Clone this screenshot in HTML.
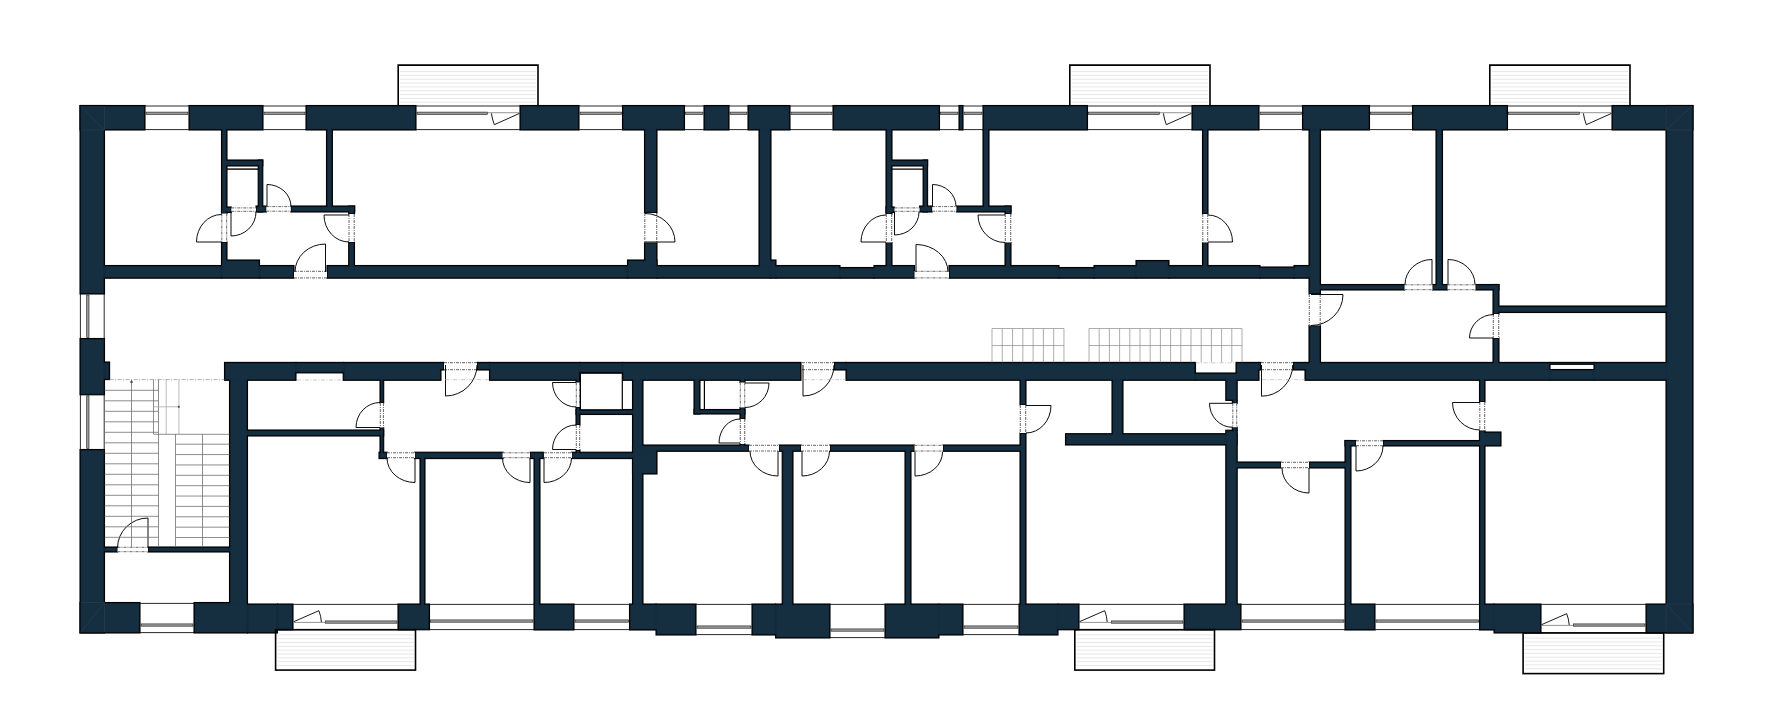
<!DOCTYPE html>
<html><head><meta charset="utf-8"><title>Floor plan</title>
<style>html,body{margin:0;padding:0;background:#fff;overflow:hidden}svg{display:block}</style></head>
<body><svg width="1785" height="727" viewBox="0 0 1785 727">
<defs>
<filter id="er" color-interpolation-filters="sRGB" x="0" y="0" width="100%" height="100%" filterUnits="userSpaceOnUse"><feMorphology operator="erode" radius="1"/></filter>
<g id="walls">
<rect x="80.00" y="105.50" width="65.00" height="24.50"/>
<rect x="189.00" y="105.50" width="74.00" height="24.50"/>
<rect x="306.00" y="105.50" width="110.00" height="24.50"/>
<rect x="520.00" y="105.50" width="59.00" height="24.50"/>
<rect x="622.50" y="105.50" width="62.00" height="24.50"/>
<rect x="704.00" y="105.50" width="25.00" height="24.50"/>
<rect x="748.00" y="105.50" width="42.00" height="24.50"/>
<rect x="833.00" y="105.50" width="106.50" height="24.50"/>
<rect x="959.00" y="105.50" width="4.00" height="24.50"/>
<rect x="983.00" y="105.50" width="104.50" height="24.50"/>
<rect x="1192.00" y="105.50" width="67.00" height="24.50"/>
<rect x="1302.50" y="105.50" width="67.00" height="24.50"/>
<rect x="1412.50" y="105.50" width="95.00" height="24.50"/>
<rect x="1612.00" y="105.50" width="81.00" height="24.50"/>
<rect x="80.00" y="105.50" width="24.50" height="188.50"/>
<rect x="80.00" y="338.50" width="24.50" height="56.30"/>
<rect x="80.00" y="449.50" width="24.50" height="183.50"/>
<rect x="104.50" y="362.00" width="5.10" height="17.60"/>
<rect x="1666.00" y="105.50" width="27.00" height="527.50"/>
<rect x="80.00" y="602.50" width="60.00" height="30.50"/>
<rect x="194.00" y="602.50" width="53.50" height="30.50"/>
<rect x="247.50" y="604.00" width="30.00" height="29.00"/>
<rect x="277.50" y="604.00" width="15.50" height="25.80"/>
<rect x="398.00" y="604.00" width="31.50" height="25.80"/>
<rect x="534.00" y="604.00" width="40.00" height="26.00"/>
<rect x="629.50" y="604.00" width="26.50" height="26.00"/>
<rect x="656.00" y="604.00" width="40.00" height="31.00"/>
<rect x="752.00" y="604.00" width="23.50" height="31.00"/>
<rect x="775.50" y="604.00" width="54.50" height="34.00"/>
<rect x="885.00" y="604.00" width="54.00" height="34.00"/>
<rect x="939.00" y="604.00" width="24.00" height="31.00"/>
<rect x="1019.00" y="604.00" width="39.00" height="31.00"/>
<rect x="1058.00" y="604.00" width="21.00" height="25.80"/>
<rect x="1184.00" y="604.00" width="57.00" height="25.80"/>
<rect x="1345.00" y="604.00" width="30.00" height="26.00"/>
<rect x="1479.50" y="604.00" width="14.50" height="26.00"/>
<rect x="1494.00" y="604.00" width="47.00" height="29.00"/>
<rect x="1646.00" y="604.00" width="47.00" height="29.00"/>
<rect x="104.50" y="265.50" width="117.00" height="12.70"/>
<rect x="221.50" y="260.00" width="38.00" height="18.20"/>
<rect x="259.50" y="265.50" width="34.50" height="12.70"/>
<rect x="327.00" y="265.50" width="300.50" height="12.70"/>
<rect x="627.50" y="260.00" width="29.50" height="18.20"/>
<rect x="657.00" y="265.50" width="114.00" height="12.70"/>
<rect x="771.00" y="260.00" width="5.00" height="18.20"/>
<rect x="776.00" y="265.50" width="64.00" height="12.70"/>
<rect x="840.00" y="267.50" width="34.00" height="10.70"/>
<rect x="874.00" y="265.50" width="40.50" height="12.70"/>
<rect x="949.00" y="265.50" width="110.00" height="12.70"/>
<rect x="1059.00" y="267.50" width="35.00" height="10.70"/>
<rect x="1094.00" y="265.50" width="42.00" height="12.70"/>
<rect x="1136.00" y="260.50" width="33.00" height="17.70"/>
<rect x="1169.00" y="265.50" width="91.00" height="12.70"/>
<rect x="1260.00" y="267.00" width="34.00" height="11.20"/>
<rect x="1294.00" y="265.50" width="15.00" height="12.70"/>
<rect x="224.50" y="362.40" width="71.50" height="17.90"/>
<rect x="296.00" y="362.40" width="47.20" height="10.50"/>
<rect x="343.20" y="362.40" width="97.80" height="17.90"/>
<rect x="441.00" y="362.40" width="3.00" height="7.60"/>
<rect x="477.00" y="362.40" width="12.50" height="7.60"/>
<rect x="489.50" y="362.40" width="90.50" height="17.90"/>
<rect x="580.00" y="362.40" width="42.50" height="10.60"/>
<rect x="622.50" y="362.40" width="178.50" height="17.90"/>
<rect x="834.00" y="362.40" width="12.00" height="7.60"/>
<rect x="846.00" y="362.40" width="349.50" height="17.90"/>
<rect x="1195.50" y="373.00" width="40.50" height="7.30"/>
<rect x="1236.00" y="362.40" width="23.00" height="17.90"/>
<rect x="1259.00" y="362.40" width="2.00" height="7.60"/>
<rect x="1293.00" y="362.40" width="12.00" height="7.60"/>
<rect x="1305.00" y="362.40" width="245.00" height="17.90"/>
<rect x="1550.00" y="369.50" width="44.00" height="10.80"/>
<rect x="1550.00" y="362.40" width="44.00" height="1.90"/>
<rect x="1594.00" y="362.40" width="72.00" height="17.90"/>
<rect x="221.50" y="130.00" width="5.50" height="83.50"/>
<rect x="221.50" y="242.00" width="5.50" height="24.00"/>
<rect x="227.00" y="160.00" width="35.80" height="6.00"/>
<rect x="258.20" y="160.00" width="4.60" height="52.00"/>
<rect x="221.50" y="207.00" width="9.80" height="5.50"/>
<rect x="256.00" y="206.00" width="10.30" height="6.00"/>
<rect x="326.50" y="130.00" width="5.90" height="77.00"/>
<rect x="290.80" y="206.00" width="64.00" height="6.00"/>
<rect x="348.70" y="206.00" width="5.80" height="8.00"/>
<rect x="348.70" y="242.00" width="5.80" height="24.00"/>
<rect x="644.50" y="130.00" width="12.50" height="83.00"/>
<rect x="644.50" y="242.50" width="12.50" height="23.50"/>
<rect x="759.00" y="130.00" width="12.00" height="136.00"/>
<rect x="886.00" y="130.00" width="6.00" height="84.00"/>
<rect x="886.00" y="242.50" width="6.00" height="23.50"/>
<rect x="891.50" y="160.00" width="36.10" height="6.00"/>
<rect x="923.10" y="160.00" width="4.50" height="52.00"/>
<rect x="886.00" y="207.00" width="8.40" height="5.50"/>
<rect x="919.60" y="206.00" width="12.60" height="6.00"/>
<rect x="956.40" y="206.00" width="54.60" height="6.00"/>
<rect x="983.00" y="130.00" width="6.00" height="77.00"/>
<rect x="1005.00" y="206.00" width="6.00" height="8.00"/>
<rect x="1005.00" y="242.50" width="6.00" height="23.50"/>
<rect x="1202.50" y="130.00" width="5.50" height="84.00"/>
<rect x="1202.50" y="242.50" width="5.50" height="23.50"/>
<rect x="1309.00" y="130.00" width="11.50" height="164.00"/>
<rect x="1309.00" y="325.50" width="11.50" height="37.50"/>
<rect x="1436.00" y="130.00" width="6.50" height="155.00"/>
<rect x="1320.50" y="284.50" width="84.00" height="5.50"/>
<rect x="1432.50" y="284.50" width="15.00" height="5.50"/>
<rect x="1475.50" y="284.50" width="23.50" height="5.50"/>
<rect x="1493.00" y="284.50" width="6.00" height="29.50"/>
<rect x="1493.00" y="338.00" width="6.00" height="25.00"/>
<rect x="1499.00" y="306.00" width="167.00" height="6.50"/>
<rect x="229.50" y="380.00" width="18.00" height="224.00"/>
<rect x="104.50" y="547.00" width="13.00" height="5.00"/>
<rect x="148.00" y="547.00" width="81.50" height="5.00"/>
<rect x="247.50" y="430.00" width="136.20" height="6.00"/>
<rect x="380.00" y="380.00" width="3.70" height="23.00"/>
<rect x="380.00" y="427.50" width="3.70" height="30.50"/>
<rect x="379.00" y="452.20" width="8.10" height="6.40"/>
<rect x="414.60" y="452.20" width="88.50" height="6.40"/>
<rect x="530.30" y="452.20" width="13.00" height="6.40"/>
<rect x="571.60" y="452.20" width="60.90" height="6.40"/>
<rect x="420.00" y="458.00" width="5.00" height="146.00"/>
<rect x="534.00" y="458.00" width="6.00" height="146.00"/>
<rect x="576.00" y="380.00" width="4.00" height="2.50"/>
<rect x="576.00" y="407.00" width="4.00" height="18.00"/>
<rect x="576.00" y="450.00" width="4.00" height="3.00"/>
<rect x="576.00" y="409.50" width="56.50" height="5.00"/>
<rect x="632.50" y="380.00" width="10.50" height="224.00"/>
<rect x="632.50" y="446.00" width="24.50" height="28.00"/>
<rect x="643.00" y="445.00" width="106.00" height="6.30"/>
<rect x="779.00" y="445.00" width="22.00" height="6.30"/>
<rect x="830.00" y="445.00" width="84.50" height="6.30"/>
<rect x="943.00" y="445.00" width="77.00" height="6.30"/>
<rect x="782.20" y="451.00" width="10.80" height="153.00"/>
<rect x="694.00" y="380.00" width="6.00" height="34.00"/>
<rect x="694.00" y="409.50" width="51.00" height="4.50"/>
<rect x="740.00" y="380.00" width="5.00" height="2.50"/>
<rect x="740.00" y="407.50" width="5.00" height="11.50"/>
<rect x="740.00" y="444.00" width="5.00" height="2.00"/>
<rect x="905.00" y="451.00" width="6.00" height="153.00"/>
<rect x="1020.00" y="380.00" width="6.00" height="25.00"/>
<rect x="1020.00" y="433.00" width="6.00" height="171.00"/>
<rect x="1065.50" y="433.70" width="171.50" height="11.30"/>
<rect x="1112.00" y="380.00" width="11.00" height="54.00"/>
<rect x="1225.80" y="380.00" width="11.40" height="20.40"/>
<rect x="1232.30" y="400.40" width="4.90" height="2.90"/>
<rect x="1232.30" y="427.30" width="4.90" height="2.90"/>
<rect x="1225.80" y="430.20" width="11.40" height="173.80"/>
<rect x="1237.00" y="462.00" width="44.00" height="6.00"/>
<rect x="1309.00" y="462.00" width="36.00" height="6.00"/>
<rect x="1345.00" y="440.50" width="6.00" height="163.50"/>
<rect x="1345.00" y="440.50" width="11.00" height="5.50"/>
<rect x="1383.00" y="440.50" width="96.50" height="5.50"/>
<rect x="1479.50" y="380.00" width="5.50" height="22.00"/>
<rect x="1479.50" y="430.50" width="5.50" height="173.50"/>
<rect x="1479.50" y="432.00" width="21.50" height="14.00"/>
</g>
</defs>
<rect width="1785" height="727" fill="#fff"/>
<use href="#walls" fill="#000" stroke="#000" stroke-width="1.1"/>
<use href="#walls" fill="#152e40" stroke="#152e40" stroke-width="0.5" filter="url(#er)"/>
<g fill="none" stroke="#333" stroke-width="0.75" stroke-dasharray="3 1 1 1">
<rect x="221.50" y="213.50" width="5.50" height="28.50" fill="#fff" stroke="none"/>
<path d="M221.8,213.5 V242 M226.7,213.5 V242"/>
<rect x="231.30" y="207.60" width="24.70" height="4.00" fill="#fff" stroke="none"/>
<path d="M231.3,207.9 H256 M231.3,211.29999999999998 H256"/>
<rect x="266.30" y="206.30" width="24.50" height="5.20" fill="#fff" stroke="none"/>
<path d="M266.3,206.60000000000002 H290.8 M266.3,211.2 H290.8"/>
<rect x="348.70" y="214.00" width="5.80" height="28.00" fill="#fff" stroke="none"/>
<path d="M349.0,214 V242 M354.2,214 V242"/>
<rect x="294.00" y="271.00" width="33.00" height="7.20" fill="#fff" stroke="none"/>
<path d="M294,271.3 H327 M294,277.9 H327"/>
<rect x="644.50" y="213.00" width="12.50" height="29.50" fill="#fff" stroke="none"/>
<path d="M644.8,213 V242.5 M656.7,213 V242.5"/>
<rect x="886.00" y="214.00" width="6.00" height="28.50" fill="#fff" stroke="none"/>
<path d="M886.3,214 V242.5 M891.7,214 V242.5"/>
<rect x="894.40" y="207.60" width="25.20" height="4.00" fill="#fff" stroke="none"/>
<path d="M894.4,207.9 H919.6 M894.4,211.29999999999998 H919.6"/>
<rect x="932.20" y="206.30" width="24.20" height="5.20" fill="#fff" stroke="none"/>
<path d="M932.2,206.60000000000002 H956.4 M932.2,211.2 H956.4"/>
<rect x="1005.00" y="214.00" width="6.00" height="28.50" fill="#fff" stroke="none"/>
<path d="M1005.3,214 V242.5 M1010.7,214 V242.5"/>
<rect x="914.50" y="271.00" width="34.50" height="7.20" fill="#fff" stroke="none"/>
<path d="M914.5,271.3 H949 M914.5,277.9 H949"/>
<rect x="1202.50" y="214.00" width="5.50" height="28.50" fill="#fff" stroke="none"/>
<path d="M1202.8,214 V242.5 M1207.7,214 V242.5"/>
<rect x="1309.00" y="294.00" width="11.50" height="31.50" fill="#fff" stroke="none"/>
<path d="M1309.3,294 V325.5 M1320.2,294 V325.5"/>
<rect x="1404.50" y="284.50" width="28.00" height="5.50" fill="#fff" stroke="none"/>
<path d="M1404.5,284.8 H1432.5 M1404.5,289.7 H1432.5"/>
<rect x="1447.50" y="284.50" width="28.00" height="5.50" fill="#fff" stroke="none"/>
<path d="M1447.5,284.8 H1475.5 M1447.5,289.7 H1475.5"/>
<rect x="1493.00" y="314.00" width="6.00" height="24.00" fill="#fff" stroke="none"/>
<path d="M1493.3,314 V338 M1498.7,314 V338"/>
<rect x="444.00" y="362.40" width="33.00" height="7.60" fill="#fff" stroke="none"/>
<path d="M444,362.7 H477 M444,369.7 H477"/>
<rect x="802.00" y="362.40" width="32.00" height="7.60" fill="#fff" stroke="none"/>
<path d="M802,362.7 H834 M802,369.7 H834"/>
<rect x="1261.00" y="362.40" width="32.00" height="7.60" fill="#fff" stroke="none"/>
<path d="M1261,362.7 H1293 M1261,369.7 H1293"/>
<rect x="117.50" y="547.00" width="30.50" height="5.00" fill="#fff" stroke="none"/>
<path d="M117.5,547.3 H148 M117.5,551.7 H148"/>
<rect x="380.00" y="403.00" width="3.70" height="24.50" fill="#fff" stroke="none"/>
<path d="M380.3,403 V427.5 M383.4,403 V427.5"/>
<rect x="387.00" y="452.50" width="28.00" height="5.50" fill="#fff" stroke="none"/>
<path d="M387,452.8 H415 M387,457.7 H415"/>
<rect x="502.50" y="452.50" width="27.50" height="5.50" fill="#fff" stroke="none"/>
<path d="M502.5,452.8 H530 M502.5,457.7 H530"/>
<rect x="544.00" y="452.50" width="28.00" height="5.50" fill="#fff" stroke="none"/>
<path d="M544,452.8 H572 M544,457.7 H572"/>
<rect x="576.00" y="382.50" width="4.00" height="24.50" fill="#fff" stroke="none"/>
<path d="M576.3,382.5 V407 M579.7,382.5 V407"/>
<rect x="576.00" y="425.00" width="4.00" height="25.00" fill="#fff" stroke="none"/>
<path d="M576.3,425 V450 M579.7,425 V450"/>
<rect x="749.00" y="445.00" width="30.00" height="6.30" fill="#fff" stroke="none"/>
<path d="M749,445.3 H779 M749,451.0 H779"/>
<rect x="801.00" y="445.00" width="29.00" height="6.30" fill="#fff" stroke="none"/>
<path d="M801,445.3 H830 M801,451.0 H830"/>
<rect x="740.00" y="382.50" width="5.00" height="25.00" fill="#fff" stroke="none"/>
<path d="M740.3,382.5 V407.5 M744.7,382.5 V407.5"/>
<rect x="740.00" y="419.00" width="5.00" height="25.00" fill="#fff" stroke="none"/>
<path d="M740.3,419 V444 M744.7,419 V444"/>
<rect x="914.50" y="445.00" width="28.50" height="6.30" fill="#fff" stroke="none"/>
<path d="M914.5,445.3 H943 M914.5,451.0 H943"/>
<rect x="1020.00" y="405.00" width="6.00" height="28.00" fill="#fff" stroke="none"/>
<path d="M1020.3,405 V433 M1025.7,405 V433"/>
<rect x="1232.50" y="403.30" width="4.50" height="24.00" fill="#fff" stroke="none"/>
<path d="M1232.8,403.3 V427.3 M1236.7,403.3 V427.3"/>
<rect x="1479.50" y="402.00" width="5.50" height="28.50" fill="#fff" stroke="none"/>
<path d="M1479.8,402 V430.5 M1484.7,402 V430.5"/>
<rect x="1356.00" y="440.50" width="27.00" height="5.50" fill="#fff" stroke="none"/>
<path d="M1356,440.8 H1383 M1356,445.7 H1383"/>
<rect x="1281.00" y="462.00" width="28.00" height="6.00" fill="#fff" stroke="none"/>
<path d="M1281,462.3 H1309 M1281,467.7 H1309"/>
</g>
<g fill="none" stroke="#000" stroke-width="0.95">
<path d="M221.5,242 l-25,0 A25,27.5 0 0 1 221.5,214.5"/>
<path d="M231,212 l0,24 A25,24 0 0 0 256,212"/>
<path d="M267,206.5 l0,-22 A24,22 0 0 1 291,206.5"/>
<path d="M349,215 l-25,0 A25,27 0 0 0 349,242"/>
<path d="M325.5,272 l0,-28 A30.5,28 0 0 0 295.0,272"/>
<path d="M645,242 l30,0 A30,28.5 0 0 0 645,213.5"/>
<path d="M886,242 l-25,0 A25,27 0 0 1 886,215"/>
<path d="M894.5,212 l0,23 A24.5,23 0 0 0 919.0,212"/>
<path d="M932.5,206.5 l0,-22 A23.5,22 0 0 1 956.0,206.5"/>
<path d="M1005,215 l-27,0 A27,27.5 0 0 0 1005,242.5"/>
<path d="M916,272 l0,-27.5 A32,27.5 0 0 1 948,272"/>
<path d="M1208,242 l24.5,0 A24.5,27 0 0 0 1208,215"/>
<path d="M1311,294.5 l32,0 A32,31 0 0 1 1311,325.5"/>
<path d="M1432,284.5 l0,-25 A27,25 0 0 0 1405,284.5"/>
<path d="M1448,284.5 l0,-25 A27,25 0 0 1 1475,284.5"/>
<path d="M1494,338 l-24.5,0 A24.5,23.5 0 0 1 1494,314.5"/>
<path d="M445.5,365 l0,31 A31.5,31 0 0 0 477.0,365"/>
<path d="M803,365 l0,31 A31,31 0 0 0 834,365"/>
<path d="M1261.5,365 l0,31.2 A31.2,31.2 0 0 0 1292.7,365"/>
<path d="M148,548 l0,-30 A30.5,30 0 0 0 117.5,548"/>
<path d="M380,427.5 l-24,0 A24,25 0 0 1 380,402.5"/>
<path d="M415,458 l0,24.5 A28,24.5 0 0 1 387,458"/>
<path d="M530,458 l0,24.5 A27.5,24.5 0 0 1 502.5,458"/>
<path d="M544,458 l0,24.5 A27.5,24.5 0 0 0 571.5,458"/>
<path d="M576,382.5 l-23.5,0 A23.5,24.5 0 0 0 576,407.0"/>
<path d="M576,449.5 l-23.5,0 A23.5,24.5 0 0 1 576,425.0"/>
<path d="M778,451 l0,25 A28,25 0 0 1 750,451"/>
<path d="M802,451 l0,25 A27.5,25 0 0 0 829.5,451"/>
<path d="M745,383 l24,0 A24,24.5 0 0 1 745,407.5"/>
<path d="M740,443 l-21,0 A21,24 0 0 1 740,419"/>
<path d="M915,452 l0,24 A27.5,24 0 0 0 942.5,452"/>
<path d="M1026,405.5 l25,0 A25,27.5 0 0 1 1026,433.0"/>
<path d="M1232.5,403.3 l-23,0 A23,24 0 0 0 1232.5,427.3"/>
<path d="M1480,402.5 l-27.5,0 A27.5,27.5 0 0 0 1480,430.0"/>
<path d="M1356,446 l0,25 A27,25 0 0 0 1383,446"/>
<path d="M1309,468 l0,25 A27,25 0 0 1 1282,468"/>
</g>
<line x1="145.00" y1="106.00" x2="189.00" y2="106.00" stroke="#111" stroke-width="0.9" />
<line x1="145.00" y1="129.60" x2="189.00" y2="129.60" stroke="#111" stroke-width="0.9" />
<rect x="146.00" y="112.10" width="42.00" height="2.30" fill="#9a9a9a" stroke="#1a1a1a" stroke-width="0.6"/>
<line x1="263.00" y1="106.00" x2="306.00" y2="106.00" stroke="#111" stroke-width="0.9" />
<line x1="263.00" y1="129.60" x2="306.00" y2="129.60" stroke="#111" stroke-width="0.9" />
<rect x="264.00" y="112.10" width="41.00" height="2.30" fill="#9a9a9a" stroke="#1a1a1a" stroke-width="0.6"/>
<line x1="416.00" y1="106.00" x2="520.00" y2="106.00" stroke="#111" stroke-width="0.9" />
<line x1="416.00" y1="129.60" x2="520.00" y2="129.60" stroke="#111" stroke-width="0.9" />
<rect x="417.00" y="112.10" width="70.50" height="2.30" fill="#9a9a9a" stroke="#1a1a1a" stroke-width="0.6"/>
<line x1="487.50" y1="112.70" x2="519.00" y2="112.70" stroke="#666" stroke-width="0.7" />
<line x1="579.00" y1="106.00" x2="622.50" y2="106.00" stroke="#111" stroke-width="0.9" />
<line x1="579.00" y1="129.60" x2="622.50" y2="129.60" stroke="#111" stroke-width="0.9" />
<rect x="580.00" y="112.10" width="41.50" height="2.30" fill="#9a9a9a" stroke="#1a1a1a" stroke-width="0.6"/>
<line x1="684.50" y1="106.00" x2="704.00" y2="106.00" stroke="#111" stroke-width="0.9" />
<line x1="684.50" y1="129.60" x2="704.00" y2="129.60" stroke="#111" stroke-width="0.9" />
<rect x="685.50" y="112.10" width="17.50" height="2.30" fill="#9a9a9a" stroke="#1a1a1a" stroke-width="0.6"/>
<line x1="729.00" y1="106.00" x2="748.00" y2="106.00" stroke="#111" stroke-width="0.9" />
<line x1="729.00" y1="129.60" x2="748.00" y2="129.60" stroke="#111" stroke-width="0.9" />
<rect x="730.00" y="112.10" width="17.00" height="2.30" fill="#9a9a9a" stroke="#1a1a1a" stroke-width="0.6"/>
<line x1="790.00" y1="106.00" x2="833.00" y2="106.00" stroke="#111" stroke-width="0.9" />
<line x1="790.00" y1="129.60" x2="833.00" y2="129.60" stroke="#111" stroke-width="0.9" />
<rect x="791.00" y="112.10" width="41.00" height="2.30" fill="#9a9a9a" stroke="#1a1a1a" stroke-width="0.6"/>
<line x1="939.50" y1="106.00" x2="959.00" y2="106.00" stroke="#111" stroke-width="0.9" />
<line x1="939.50" y1="129.60" x2="959.00" y2="129.60" stroke="#111" stroke-width="0.9" />
<rect x="940.50" y="112.10" width="17.50" height="2.30" fill="#9a9a9a" stroke="#1a1a1a" stroke-width="0.6"/>
<line x1="963.00" y1="106.00" x2="983.00" y2="106.00" stroke="#111" stroke-width="0.9" />
<line x1="963.00" y1="129.60" x2="983.00" y2="129.60" stroke="#111" stroke-width="0.9" />
<rect x="964.00" y="112.10" width="18.00" height="2.30" fill="#9a9a9a" stroke="#1a1a1a" stroke-width="0.6"/>
<line x1="1087.50" y1="106.00" x2="1192.00" y2="106.00" stroke="#111" stroke-width="0.9" />
<line x1="1087.50" y1="129.60" x2="1192.00" y2="129.60" stroke="#111" stroke-width="0.9" />
<rect x="1088.50" y="112.10" width="71.00" height="2.30" fill="#9a9a9a" stroke="#1a1a1a" stroke-width="0.6"/>
<line x1="1159.50" y1="112.70" x2="1191.00" y2="112.70" stroke="#666" stroke-width="0.7" />
<line x1="1259.00" y1="106.00" x2="1302.50" y2="106.00" stroke="#111" stroke-width="0.9" />
<line x1="1259.00" y1="129.60" x2="1302.50" y2="129.60" stroke="#111" stroke-width="0.9" />
<rect x="1260.00" y="112.10" width="41.50" height="2.30" fill="#9a9a9a" stroke="#1a1a1a" stroke-width="0.6"/>
<line x1="1369.50" y1="106.00" x2="1412.50" y2="106.00" stroke="#111" stroke-width="0.9" />
<line x1="1369.50" y1="129.60" x2="1412.50" y2="129.60" stroke="#111" stroke-width="0.9" />
<rect x="1370.50" y="112.10" width="41.00" height="2.30" fill="#9a9a9a" stroke="#1a1a1a" stroke-width="0.6"/>
<line x1="1507.50" y1="106.00" x2="1612.00" y2="106.00" stroke="#111" stroke-width="0.9" />
<line x1="1507.50" y1="129.60" x2="1612.00" y2="129.60" stroke="#111" stroke-width="0.9" />
<rect x="1508.50" y="112.10" width="71.00" height="2.30" fill="#9a9a9a" stroke="#1a1a1a" stroke-width="0.6"/>
<line x1="1579.50" y1="112.70" x2="1611.00" y2="112.70" stroke="#666" stroke-width="0.7" />
<line x1="80.40" y1="294.00" x2="80.40" y2="338.50" stroke="#111" stroke-width="0.9" />
<line x1="104.20" y1="294.00" x2="104.20" y2="338.50" stroke="#111" stroke-width="0.9" />
<rect x="86.70" y="295.00" width="2.30" height="42.50" fill="#9a9a9a" stroke="#1a1a1a" stroke-width="0.6"/>
<line x1="80.40" y1="394.80" x2="80.40" y2="449.50" stroke="#111" stroke-width="0.9" />
<line x1="104.20" y1="394.80" x2="104.20" y2="449.50" stroke="#111" stroke-width="0.9" />
<rect x="86.70" y="395.80" width="2.30" height="52.70" fill="#9a9a9a" stroke="#1a1a1a" stroke-width="0.6"/>
<line x1="140.00" y1="603.40" x2="194.00" y2="603.40" stroke="#111" stroke-width="0.9" />
<line x1="140.00" y1="632.60" x2="194.00" y2="632.60" stroke="#111" stroke-width="0.9" />
<rect x="141.00" y="623.90" width="52.00" height="2.30" fill="#9a9a9a" stroke="#1a1a1a" stroke-width="0.6"/>
<line x1="293.00" y1="604.40" x2="398.00" y2="604.40" stroke="#111" stroke-width="0.9" />
<line x1="293.00" y1="629.40" x2="398.00" y2="629.40" stroke="#111" stroke-width="0.9" />
<rect x="325.50" y="620.90" width="71.50" height="2.30" fill="#9a9a9a" stroke="#1a1a1a" stroke-width="0.6"/>
<line x1="294.00" y1="622.40" x2="325.50" y2="622.40" stroke="#666" stroke-width="0.7" />
<line x1="429.50" y1="604.40" x2="534.00" y2="604.40" stroke="#111" stroke-width="0.9" />
<line x1="429.50" y1="629.60" x2="534.00" y2="629.60" stroke="#111" stroke-width="0.9" />
<rect x="430.50" y="619.90" width="102.50" height="2.30" fill="#9a9a9a" stroke="#1a1a1a" stroke-width="0.6"/>
<line x1="574.00" y1="604.40" x2="629.50" y2="604.40" stroke="#111" stroke-width="0.9" />
<line x1="574.00" y1="629.60" x2="629.50" y2="629.60" stroke="#111" stroke-width="0.9" />
<rect x="575.00" y="619.90" width="53.50" height="2.30" fill="#9a9a9a" stroke="#1a1a1a" stroke-width="0.6"/>
<line x1="696.00" y1="604.40" x2="752.00" y2="604.40" stroke="#111" stroke-width="0.9" />
<line x1="696.00" y1="634.60" x2="752.00" y2="634.60" stroke="#111" stroke-width="0.9" />
<rect x="697.00" y="625.90" width="54.00" height="2.30" fill="#9a9a9a" stroke="#1a1a1a" stroke-width="0.6"/>
<line x1="830.00" y1="604.40" x2="885.00" y2="604.40" stroke="#111" stroke-width="0.9" />
<line x1="830.00" y1="637.60" x2="885.00" y2="637.60" stroke="#111" stroke-width="0.9" />
<rect x="831.00" y="628.90" width="53.00" height="2.30" fill="#9a9a9a" stroke="#1a1a1a" stroke-width="0.6"/>
<line x1="963.00" y1="604.40" x2="1019.00" y2="604.40" stroke="#111" stroke-width="0.9" />
<line x1="963.00" y1="634.60" x2="1019.00" y2="634.60" stroke="#111" stroke-width="0.9" />
<rect x="964.00" y="625.90" width="54.00" height="2.30" fill="#9a9a9a" stroke="#1a1a1a" stroke-width="0.6"/>
<line x1="1079.00" y1="604.40" x2="1184.00" y2="604.40" stroke="#111" stroke-width="0.9" />
<line x1="1079.00" y1="629.40" x2="1184.00" y2="629.40" stroke="#111" stroke-width="0.9" />
<rect x="1111.50" y="620.90" width="71.50" height="2.30" fill="#9a9a9a" stroke="#1a1a1a" stroke-width="0.6"/>
<line x1="1080.00" y1="622.40" x2="1111.50" y2="622.40" stroke="#666" stroke-width="0.7" />
<line x1="1241.00" y1="604.40" x2="1345.00" y2="604.40" stroke="#111" stroke-width="0.9" />
<line x1="1241.00" y1="629.60" x2="1345.00" y2="629.60" stroke="#111" stroke-width="0.9" />
<rect x="1242.00" y="619.90" width="102.00" height="2.30" fill="#9a9a9a" stroke="#1a1a1a" stroke-width="0.6"/>
<line x1="1375.00" y1="604.40" x2="1479.50" y2="604.40" stroke="#111" stroke-width="0.9" />
<line x1="1375.00" y1="629.60" x2="1479.50" y2="629.60" stroke="#111" stroke-width="0.9" />
<rect x="1376.00" y="619.90" width="102.50" height="2.30" fill="#9a9a9a" stroke="#1a1a1a" stroke-width="0.6"/>
<line x1="1541.00" y1="604.40" x2="1646.00" y2="604.40" stroke="#111" stroke-width="0.9" />
<line x1="1541.00" y1="632.60" x2="1646.00" y2="632.60" stroke="#111" stroke-width="0.9" />
<rect x="1573.50" y="623.90" width="71.50" height="2.30" fill="#9a9a9a" stroke="#1a1a1a" stroke-width="0.6"/>
<line x1="1542.00" y1="625.40" x2="1573.50" y2="625.40" stroke="#666" stroke-width="0.7" />
<line x1="399.90" y1="71.60" x2="536.30" y2="71.60" stroke="#e4e4e4" stroke-width="0.9" />
<line x1="399.90" y1="75.43" x2="536.30" y2="75.43" stroke="#e4e4e4" stroke-width="0.9" />
<line x1="399.90" y1="79.26" x2="536.30" y2="79.26" stroke="#e4e4e4" stroke-width="0.9" />
<line x1="399.90" y1="83.09" x2="536.30" y2="83.09" stroke="#e4e4e4" stroke-width="0.9" />
<line x1="399.90" y1="86.92" x2="536.30" y2="86.92" stroke="#e4e4e4" stroke-width="0.9" />
<line x1="399.90" y1="90.75" x2="536.30" y2="90.75" stroke="#e4e4e4" stroke-width="0.9" />
<line x1="399.90" y1="94.58" x2="536.30" y2="94.58" stroke="#e4e4e4" stroke-width="0.9" />
<line x1="399.90" y1="98.41" x2="536.30" y2="98.41" stroke="#e4e4e4" stroke-width="0.9" />
<line x1="399.90" y1="102.24" x2="536.30" y2="102.24" stroke="#e4e4e4" stroke-width="0.9" />
<path d="M398.20,105.6 V65.10 H538.00 V105.6" fill="none" stroke="#000" stroke-width="1.6"/>
<line x1="1071.50" y1="71.60" x2="1208.30" y2="71.60" stroke="#e4e4e4" stroke-width="0.9" />
<line x1="1071.50" y1="75.43" x2="1208.30" y2="75.43" stroke="#e4e4e4" stroke-width="0.9" />
<line x1="1071.50" y1="79.26" x2="1208.30" y2="79.26" stroke="#e4e4e4" stroke-width="0.9" />
<line x1="1071.50" y1="83.09" x2="1208.30" y2="83.09" stroke="#e4e4e4" stroke-width="0.9" />
<line x1="1071.50" y1="86.92" x2="1208.30" y2="86.92" stroke="#e4e4e4" stroke-width="0.9" />
<line x1="1071.50" y1="90.75" x2="1208.30" y2="90.75" stroke="#e4e4e4" stroke-width="0.9" />
<line x1="1071.50" y1="94.58" x2="1208.30" y2="94.58" stroke="#e4e4e4" stroke-width="0.9" />
<line x1="1071.50" y1="98.41" x2="1208.30" y2="98.41" stroke="#e4e4e4" stroke-width="0.9" />
<line x1="1071.50" y1="102.24" x2="1208.30" y2="102.24" stroke="#e4e4e4" stroke-width="0.9" />
<path d="M1069.80,105.6 V65.10 H1210.00 V105.6" fill="none" stroke="#000" stroke-width="1.6"/>
<line x1="1491.50" y1="71.60" x2="1628.30" y2="71.60" stroke="#e4e4e4" stroke-width="0.9" />
<line x1="1491.50" y1="75.43" x2="1628.30" y2="75.43" stroke="#e4e4e4" stroke-width="0.9" />
<line x1="1491.50" y1="79.26" x2="1628.30" y2="79.26" stroke="#e4e4e4" stroke-width="0.9" />
<line x1="1491.50" y1="83.09" x2="1628.30" y2="83.09" stroke="#e4e4e4" stroke-width="0.9" />
<line x1="1491.50" y1="86.92" x2="1628.30" y2="86.92" stroke="#e4e4e4" stroke-width="0.9" />
<line x1="1491.50" y1="90.75" x2="1628.30" y2="90.75" stroke="#e4e4e4" stroke-width="0.9" />
<line x1="1491.50" y1="94.58" x2="1628.30" y2="94.58" stroke="#e4e4e4" stroke-width="0.9" />
<line x1="1491.50" y1="98.41" x2="1628.30" y2="98.41" stroke="#e4e4e4" stroke-width="0.9" />
<line x1="1491.50" y1="102.24" x2="1628.30" y2="102.24" stroke="#e4e4e4" stroke-width="0.9" />
<path d="M1489.80,105.6 V65.10 H1630.00 V105.6" fill="none" stroke="#000" stroke-width="1.6"/>
<line x1="277.30" y1="634.90" x2="413.80" y2="634.90" stroke="#e4e4e4" stroke-width="0.9" />
<line x1="277.30" y1="638.73" x2="413.80" y2="638.73" stroke="#e4e4e4" stroke-width="0.9" />
<line x1="277.30" y1="642.56" x2="413.80" y2="642.56" stroke="#e4e4e4" stroke-width="0.9" />
<line x1="277.30" y1="646.39" x2="413.80" y2="646.39" stroke="#e4e4e4" stroke-width="0.9" />
<line x1="277.30" y1="650.22" x2="413.80" y2="650.22" stroke="#e4e4e4" stroke-width="0.9" />
<line x1="277.30" y1="654.05" x2="413.80" y2="654.05" stroke="#e4e4e4" stroke-width="0.9" />
<line x1="277.30" y1="657.88" x2="413.80" y2="657.88" stroke="#e4e4e4" stroke-width="0.9" />
<line x1="277.30" y1="661.71" x2="413.80" y2="661.71" stroke="#e4e4e4" stroke-width="0.9" />
<line x1="277.30" y1="665.54" x2="413.80" y2="665.54" stroke="#e4e4e4" stroke-width="0.9" />
<rect x="275.60" y="629.80" width="139.90" height="40.30" fill="none" stroke="#000" stroke-width="1.6"/>
<line x1="1076.50" y1="634.90" x2="1212.80" y2="634.90" stroke="#e4e4e4" stroke-width="0.9" />
<line x1="1076.50" y1="638.73" x2="1212.80" y2="638.73" stroke="#e4e4e4" stroke-width="0.9" />
<line x1="1076.50" y1="642.56" x2="1212.80" y2="642.56" stroke="#e4e4e4" stroke-width="0.9" />
<line x1="1076.50" y1="646.39" x2="1212.80" y2="646.39" stroke="#e4e4e4" stroke-width="0.9" />
<line x1="1076.50" y1="650.22" x2="1212.80" y2="650.22" stroke="#e4e4e4" stroke-width="0.9" />
<line x1="1076.50" y1="654.05" x2="1212.80" y2="654.05" stroke="#e4e4e4" stroke-width="0.9" />
<line x1="1076.50" y1="657.88" x2="1212.80" y2="657.88" stroke="#e4e4e4" stroke-width="0.9" />
<line x1="1076.50" y1="661.71" x2="1212.80" y2="661.71" stroke="#e4e4e4" stroke-width="0.9" />
<line x1="1076.50" y1="665.54" x2="1212.80" y2="665.54" stroke="#e4e4e4" stroke-width="0.9" />
<rect x="1074.80" y="629.80" width="139.70" height="40.30" fill="none" stroke="#000" stroke-width="1.6"/>
<line x1="1524.80" y1="638.10" x2="1662.00" y2="638.10" stroke="#e4e4e4" stroke-width="0.9" />
<line x1="1524.80" y1="641.93" x2="1662.00" y2="641.93" stroke="#e4e4e4" stroke-width="0.9" />
<line x1="1524.80" y1="645.76" x2="1662.00" y2="645.76" stroke="#e4e4e4" stroke-width="0.9" />
<line x1="1524.80" y1="649.59" x2="1662.00" y2="649.59" stroke="#e4e4e4" stroke-width="0.9" />
<line x1="1524.80" y1="653.42" x2="1662.00" y2="653.42" stroke="#e4e4e4" stroke-width="0.9" />
<line x1="1524.80" y1="657.25" x2="1662.00" y2="657.25" stroke="#e4e4e4" stroke-width="0.9" />
<line x1="1524.80" y1="661.08" x2="1662.00" y2="661.08" stroke="#e4e4e4" stroke-width="0.9" />
<line x1="1524.80" y1="664.91" x2="1662.00" y2="664.91" stroke="#e4e4e4" stroke-width="0.9" />
<line x1="1524.80" y1="668.74" x2="1662.00" y2="668.74" stroke="#e4e4e4" stroke-width="0.9" />
<rect x="1523.10" y="633.00" width="140.60" height="40.60" fill="none" stroke="#000" stroke-width="1.6"/>
<path d="M519.5,113.4 L494.3,124.7 Q492.2,119 491.4,113.4" stroke="#000" stroke-width="0.9" fill="none" />
<path d="M1191.5,113.4 L1166.3,124.7 Q1164.2,119 1163.4,113.4" stroke="#000" stroke-width="0.9" fill="none" />
<path d="M1611.5,113.4 L1586.3,124.7 Q1584.2,119 1583.4,113.4" stroke="#000" stroke-width="0.9" fill="none" />
<path d="M293.7,621.7 L318.9,610.7 Q321.0,616 321.4,622" stroke="#000" stroke-width="0.9" fill="none" />
<path d="M1079.5,621.7 L1104.7,610.7 Q1106.8,616 1107.2,622" stroke="#000" stroke-width="0.9" fill="none" />
<path d="M1541.5,624.7 L1566.7,613.7 Q1568.8,619 1569.2,625" stroke="#000" stroke-width="0.9" fill="none" />
<line x1="227.00" y1="169.10" x2="258.20" y2="169.10" stroke="#000" stroke-width="1.4" />
<line x1="891.50" y1="169.10" x2="923.10" y2="169.10" stroke="#000" stroke-width="1.4" />
<rect x="580.4" y="373.2" width="41.9" height="36.6" fill="#fff" stroke="#000" stroke-width="1.2"/>
<path d="M704.4,380.5 V409.5" stroke="#000" stroke-width="1.2" fill="none" />
<line x1="445.00" y1="379.60" x2="489.00" y2="379.60" stroke="#aaa" stroke-width="0.6" stroke-dasharray="4 1.5 1 1.5"/>
<line x1="803.00" y1="379.60" x2="846.00" y2="379.60" stroke="#aaa" stroke-width="0.6" stroke-dasharray="4 1.5 1 1.5"/>
<line x1="1262.00" y1="379.60" x2="1305.00" y2="379.60" stroke="#aaa" stroke-width="0.6" stroke-dasharray="4 1.5 1 1.5"/>
<line x1="1195.50" y1="362.80" x2="1236.00" y2="362.80" stroke="#aaa" stroke-width="0.6" stroke-dasharray="4 1.5 1 1.5"/>
<line x1="297.00" y1="380.00" x2="343.00" y2="380.00" stroke="#aaa" stroke-width="0.6" stroke-dasharray="4 1.5 1 1.5"/>
<line x1="104.50" y1="390.30" x2="158.50" y2="390.30" stroke="#707070" stroke-width="0.8" />
<line x1="104.50" y1="400.80" x2="158.50" y2="400.80" stroke="#707070" stroke-width="0.8" />
<line x1="104.50" y1="411.30" x2="158.50" y2="411.30" stroke="#707070" stroke-width="0.8" />
<line x1="104.50" y1="421.80" x2="158.50" y2="421.80" stroke="#707070" stroke-width="0.8" />
<line x1="104.50" y1="432.30" x2="158.50" y2="432.30" stroke="#707070" stroke-width="0.8" />
<line x1="104.50" y1="442.80" x2="158.50" y2="442.80" stroke="#707070" stroke-width="0.8" />
<line x1="104.50" y1="453.30" x2="158.50" y2="453.30" stroke="#707070" stroke-width="0.8" />
<line x1="104.50" y1="463.80" x2="158.50" y2="463.80" stroke="#707070" stroke-width="0.8" />
<line x1="104.50" y1="474.30" x2="158.50" y2="474.30" stroke="#707070" stroke-width="0.8" />
<line x1="104.50" y1="484.80" x2="158.50" y2="484.80" stroke="#707070" stroke-width="0.8" />
<line x1="104.50" y1="495.30" x2="158.50" y2="495.30" stroke="#707070" stroke-width="0.8" />
<line x1="104.50" y1="505.80" x2="158.50" y2="505.80" stroke="#707070" stroke-width="0.8" />
<line x1="104.50" y1="516.30" x2="158.50" y2="516.30" stroke="#707070" stroke-width="0.8" />
<line x1="104.50" y1="526.80" x2="158.50" y2="526.80" stroke="#707070" stroke-width="0.8" />
<line x1="104.50" y1="537.30" x2="158.50" y2="537.30" stroke="#707070" stroke-width="0.8" />
<line x1="175.60" y1="444.20" x2="229.50" y2="444.20" stroke="#707070" stroke-width="0.8" />
<line x1="175.60" y1="454.57" x2="229.50" y2="454.57" stroke="#707070" stroke-width="0.8" />
<line x1="175.60" y1="464.94" x2="229.50" y2="464.94" stroke="#707070" stroke-width="0.8" />
<line x1="175.60" y1="475.31" x2="229.50" y2="475.31" stroke="#707070" stroke-width="0.8" />
<line x1="175.60" y1="485.68" x2="229.50" y2="485.68" stroke="#707070" stroke-width="0.8" />
<line x1="175.60" y1="496.05" x2="229.50" y2="496.05" stroke="#707070" stroke-width="0.8" />
<line x1="175.60" y1="506.42" x2="229.50" y2="506.42" stroke="#707070" stroke-width="0.8" />
<line x1="175.60" y1="516.79" x2="229.50" y2="516.79" stroke="#707070" stroke-width="0.8" />
<line x1="175.60" y1="527.16" x2="229.50" y2="527.16" stroke="#707070" stroke-width="0.8" />
<line x1="175.60" y1="537.53" x2="229.50" y2="537.53" stroke="#707070" stroke-width="0.8" />
<line x1="131.50" y1="381.00" x2="131.50" y2="547.00" stroke="#707070" stroke-width="0.8" />
<line x1="153.50" y1="379.50" x2="153.50" y2="434.00" stroke="#707070" stroke-width="0.8" />
<line x1="158.50" y1="379.50" x2="158.50" y2="547.00" stroke="#707070" stroke-width="0.8" />
<line x1="166.20" y1="379.50" x2="166.20" y2="434.00" stroke="#aaa" stroke-width="0.8" />
<line x1="178.90" y1="379.50" x2="178.90" y2="434.00" stroke="#aaa" stroke-width="0.8" />
<line x1="175.50" y1="434.00" x2="175.50" y2="547.00" stroke="#707070" stroke-width="0.8" />
<line x1="202.50" y1="434.00" x2="202.50" y2="547.00" stroke="#707070" stroke-width="0.8" />
<line x1="153.50" y1="434.30" x2="229.50" y2="434.30" stroke="#707070" stroke-width="0.8" />
<line x1="153.50" y1="406.80" x2="178.90" y2="406.80" stroke="#aaa" stroke-width="0.8" />
<rect x="177.9" y="405.9" width="1.8" height="1.8" fill="#444"/>
<path d="M130.3,382.6 L131.5,380 L132.7,382.6 Z" stroke="#444" stroke-width="0.5" fill="#444" />
<line x1="109.60" y1="379.60" x2="224.50" y2="379.60" stroke="#888" stroke-width="0.7" stroke-dasharray="4 1.5 1 1.5"/>
<line x1="992.00" y1="328.50" x2="992.00" y2="362.40" stroke="#8a8a8a" stroke-width="0.7" />
<line x1="1002.28" y1="328.50" x2="1002.28" y2="362.40" stroke="#8a8a8a" stroke-width="0.7" />
<line x1="1012.56" y1="328.50" x2="1012.56" y2="362.40" stroke="#8a8a8a" stroke-width="0.7" />
<line x1="1022.84" y1="328.50" x2="1022.84" y2="362.40" stroke="#8a8a8a" stroke-width="0.7" />
<line x1="1033.12" y1="328.50" x2="1033.12" y2="362.40" stroke="#8a8a8a" stroke-width="0.7" />
<line x1="1043.40" y1="328.50" x2="1043.40" y2="362.40" stroke="#8a8a8a" stroke-width="0.7" />
<line x1="1053.68" y1="328.50" x2="1053.68" y2="362.40" stroke="#8a8a8a" stroke-width="0.7" />
<line x1="1063.96" y1="328.50" x2="1063.96" y2="362.40" stroke="#8a8a8a" stroke-width="0.7" />
<line x1="1089.00" y1="328.50" x2="1089.00" y2="362.40" stroke="#8a8a8a" stroke-width="0.7" />
<line x1="1099.20" y1="328.50" x2="1099.20" y2="362.40" stroke="#8a8a8a" stroke-width="0.7" />
<line x1="1109.40" y1="328.50" x2="1109.40" y2="362.40" stroke="#8a8a8a" stroke-width="0.7" />
<line x1="1119.60" y1="328.50" x2="1119.60" y2="362.40" stroke="#8a8a8a" stroke-width="0.7" />
<line x1="1129.80" y1="328.50" x2="1129.80" y2="362.40" stroke="#8a8a8a" stroke-width="0.7" />
<line x1="1140.00" y1="328.50" x2="1140.00" y2="362.40" stroke="#8a8a8a" stroke-width="0.7" />
<line x1="1150.20" y1="328.50" x2="1150.20" y2="362.40" stroke="#8a8a8a" stroke-width="0.7" />
<line x1="1160.40" y1="328.50" x2="1160.40" y2="362.40" stroke="#8a8a8a" stroke-width="0.7" />
<line x1="1170.60" y1="328.50" x2="1170.60" y2="362.40" stroke="#8a8a8a" stroke-width="0.7" />
<line x1="1180.80" y1="328.50" x2="1180.80" y2="362.40" stroke="#8a8a8a" stroke-width="0.7" />
<line x1="1191.00" y1="328.50" x2="1191.00" y2="362.40" stroke="#8a8a8a" stroke-width="0.7" />
<line x1="1201.20" y1="328.50" x2="1201.20" y2="362.40" stroke="#8a8a8a" stroke-width="0.7" />
<line x1="1211.40" y1="328.50" x2="1211.40" y2="362.40" stroke="#8a8a8a" stroke-width="0.7" />
<line x1="1221.60" y1="328.50" x2="1221.60" y2="362.40" stroke="#8a8a8a" stroke-width="0.7" />
<line x1="1231.80" y1="328.50" x2="1231.80" y2="362.40" stroke="#8a8a8a" stroke-width="0.7" />
<line x1="1242.00" y1="328.50" x2="1242.00" y2="362.40" stroke="#8a8a8a" stroke-width="0.7" />
<line x1="992.00" y1="328.50" x2="1064.00" y2="328.50" stroke="#8a8a8a" stroke-width="0.7" />
<line x1="1089.00" y1="328.50" x2="1242.00" y2="328.50" stroke="#8a8a8a" stroke-width="0.7" />
<line x1="992.00" y1="345.50" x2="1064.00" y2="345.50" stroke="#8a8a8a" stroke-width="0.7" />
<line x1="1089.00" y1="345.50" x2="1242.00" y2="345.50" stroke="#8a8a8a" stroke-width="0.7" />
<path d="M80.8,106.3 L104.5,130 M104.5,106.5 V130 H81" stroke="#2b4253" stroke-width="0.6" fill="none" />
<path d="M1692.2,106.3 L1666,130 M1666,106.5 V130 H1692" stroke="#2b4253" stroke-width="0.6" fill="none" />
<path d="M80.8,632.2 L104.5,602.5 M104.5,632 V602.5 H81" stroke="#2b4253" stroke-width="0.6" fill="none" />
<path d="M1692.2,632.2 L1666,604 M1666,632 V604 H1692" stroke="#2b4253" stroke-width="0.6" fill="none" />
</svg></body></html>
